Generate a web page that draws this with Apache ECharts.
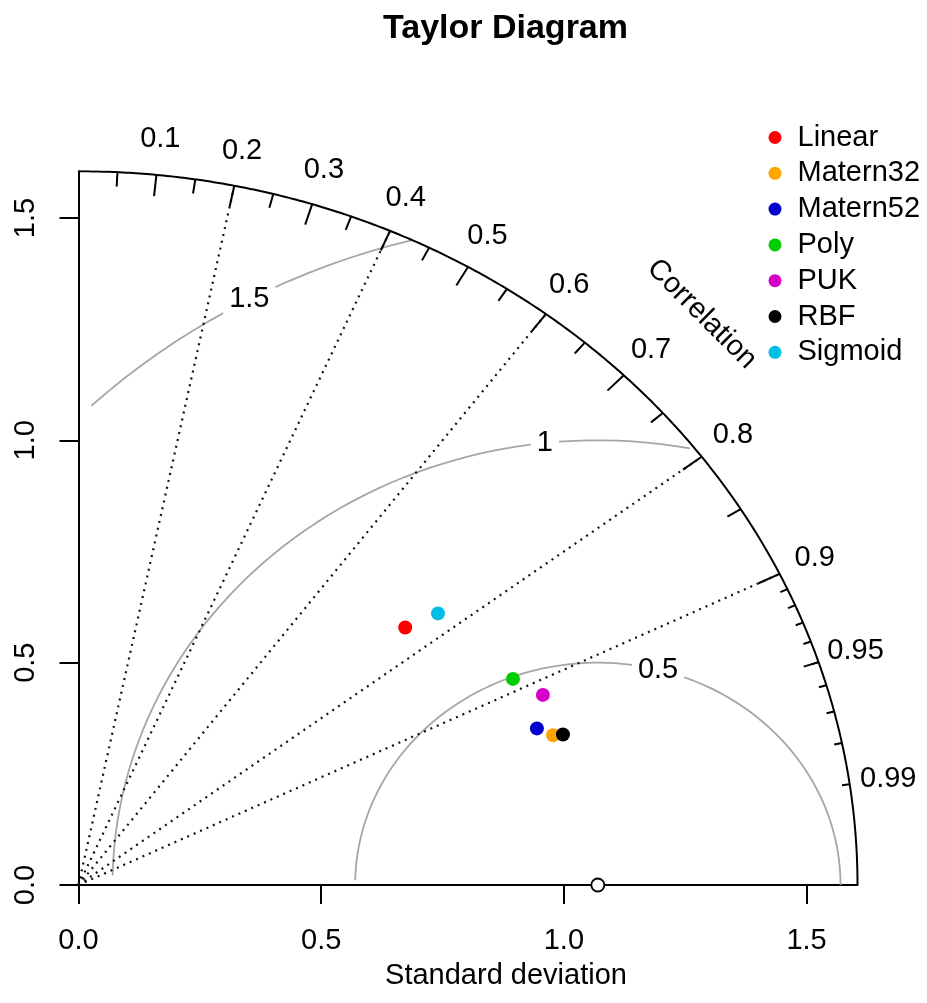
<!DOCTYPE html>
<html>
<head>
<meta charset="utf-8">
<script src="https://cdn.jsdelivr.net/npm/echarts@6/dist/echarts.min.js"></script>
<style>
html, body { margin: 0; padding: 0; background: #ffffff; }
#chart { width: 927px; height: 1003px; }
</style>
</head>
<body>
<div id="chart"></div>
<script>
// ---------------- data ----------------
const models = ['Linear', 'Matern32', 'Matern52', 'Poly', 'PUK', 'RBF', 'Sigmoid'];
const modelColors = ['#ff0000', '#ffa500', '#0000cd', '#00cd00', '#d600c8', '#000000', '#00bfe6'];
const modelSD = [0.888, 1.034, 1.008, 1.008, 1.048, 1.054, 0.960];
const modelCor = [0.758, 0.9455, 0.937, 0.888, 0.913, 0.947, 0.7715];
const refSD = 1.07;

const gammaLevels = [0.5, 1, 1.5];
const gammaLabels = ['0.5', '1', '1.5'];
const radialCors = [0.2, 0.4, 0.6, 0.8, 0.9];
const bigTickCors = [0.1, 0.2, 0.3, 0.4, 0.5, 0.6, 0.7, 0.8, 0.9];
const medTickCors = [0.05, 0.15, 0.25, 0.35, 0.45, 0.55, 0.65, 0.75, 0.85, 0.95];
const smallTickCors = [0.91, 0.92, 0.93, 0.94, 0.95, 0.96, 0.97, 0.98, 0.99];
const corLabelValues = [0.1, 0.2, 0.3, 0.4, 0.5, 0.6, 0.7, 0.8, 0.9, 0.95, 0.99];
const corLabelTexts = ['0.1', '0.2', '0.3', '0.4', '0.5', '0.6', '0.7', '0.8', '0.9', '0.95', '0.99'];
const sdTicks = [0, 0.5, 1, 1.5];
const sdTickLabels = ['0.0', '0.5', '1.0', '1.5'];

// ---------------- layout / style ----------------
const FONT = 'Liberation Sans, Arial, Helvetica, sans-serif';
const FS = 29;
const maxsd = 1.5 * refSD;                  // plotrix rule
const gammaLabelAngles = [1.32, 1.68, 2.07]; // where contour labels sit (radians around ref point)

function polar(r, c) { return [r * c, r * Math.sqrt(1 - c * c)]; }

// outer arc
const arcPts = [];
for (let i = 0; i <= 360; i++) {
  const t = (Math.PI / 2) * i / 360;
  arcPts.push([maxsd * Math.cos(t), maxsd * Math.sin(t)]);
}

// centred-RMS contours (plotrix algorithm)
function gammaCurve(g) {
  const xs = [], ys = [];
  for (let k = 0; k * 0.03 <= Math.PI; k++) {
    const t = k * 0.03;
    xs.push(Math.cos(t) * g + refSD);
    ys.push(Math.sin(t) * g);
  }
  let end = xs.findIndex(v => v < 0);
  end = end === -1 ? xs.length - 1 : end - 1;
  let start = 0;
  for (let i = 0; i < xs.length; i++) {
    if (xs[i] * xs[i] + ys[i] * ys[i] > maxsd * maxsd) start = i + 1;
  }
  const pts = [];
  for (let i = start; i <= end; i++) pts.push([xs[i], ys[i]]);
  return pts;
}

function tickSeries(cors, frac) {
  return {
    type: 'custom', silent: true, clip: false, z: 5,
    data: cors.map(c => [c]),
    renderItem: (params, api) => {
      const c = api.value(0);
      const a = api.coord(polar(maxsd, c));
      const b = api.coord(polar(maxsd * frac, c));
      return { type: 'line', shape: { x1: a[0], y1: a[1], x2: b[0], y2: b[1] },
               style: { stroke: '#000', lineWidth: 2 } };
    }
  };
}

const series = [];

// gamma contours
gammaLevels.forEach(g => {
  series.push({
    type: 'line', silent: true, showSymbol: false, symbol: 'none', z: 1,
    data: gammaCurve(g),
    lineStyle: { color: '#a6a6a6', width: 1.8 },
    animation: false
  });
});

// gamma labels
series.push({
  type: 'custom', silent: true, clip: false, z: 3,
  data: gammaLevels.map((g, i) => [g, i]),
  renderItem: (params, api) => {
    const g = api.value(0), i = api.value(1);
    const t = gammaLabelAngles[i];
    const p = api.coord([refSD + g * Math.cos(t), g * Math.sin(t)]);
    return { type: 'text', x: p[0], y: p[1],
      style: { text: gammaLabels[i], fontSize: FS, fontFamily: FONT, fill: '#000',
               align: 'center', verticalAlign: 'middle', backgroundColor: '#fff', padding: [0, 6] } };
  }
});

// radial correlation lines
series.push({
  type: 'custom', silent: true, clip: false, z: 2,
  data: radialCors.map(c => [c]),
  renderItem: (params, api) => {
    const c = api.value(0);
    const a = api.coord([0, 0]);
    const b = api.coord(polar(maxsd, c));
    return { type: 'line', shape: { x1: a[0], y1: a[1], x2: b[0], y2: b[1] },
             style: { stroke: '#111', lineWidth: 2.2, lineDash: [2, 5] } };
  }
});

// outer arc
series.push({
  type: 'line', silent: true, showSymbol: false, symbol: 'none', z: 4,
  data: arcPts, lineStyle: { color: '#000', width: 2 }, animation: false
});

series.push(tickSeries(bigTickCors, 0.97));
series.push(tickSeries(medTickCors, 0.98));
series.push(tickSeries(smallTickCors, 0.99));

// correlation labels
series.push({
  type: 'custom', silent: true, clip: false, z: 5,
  data: corLabelValues.map((c, i) => [c, i]),
  renderItem: (params, api) => {
    const c = api.value(0), i = api.value(1);
    const p = api.coord(polar(maxsd * 1.05, c));
    return { type: 'text', x: p[0], y: p[1],
      style: { text: corLabelTexts[i], fontSize: FS, fontFamily: FONT, fill: '#000',
               align: 'center', verticalAlign: 'middle' } };
  }
});

// "Correlation" title
series.push({
  type: 'custom', silent: true, clip: false, z: 5,
  data: [[maxsd * 0.8, maxsd * 0.8]],
  renderItem: (params, api) => {
    const p = api.coord([api.value(0), api.value(1)]);
    return { type: 'text', x: p[0], y: p[1], rotation: -Math.PI / 4,
      style: { text: 'Correlation', fontSize: FS, fontFamily: FONT, fill: '#000',
               align: 'center', verticalAlign: 'middle' } };
  }
});

// reference point
series.push({
  type: 'scatter', silent: true, z: 6,
  data: [[refSD, 0]], symbol: 'circle', symbolSize: 13,
  itemStyle: { color: '#fff', borderColor: '#000', borderWidth: 1.8, opacity: 1 }
});

// models
models.forEach((m, i) => {
  series.push({
    type: 'scatter', name: m, z: 7,
    data: [polar(modelSD[i], modelCor[i])],
    symbol: 'circle', symbolSize: 14,
    itemStyle: { color: modelColors[i], opacity: 1 }
  });
});

const chart = echarts.init(document.getElementById('chart'), null, { renderer: 'canvas' });
chart.setOption({
  animation: false,
  backgroundColor: '#fff',
  title: {
    text: 'Taylor Diagram', left: 383, top: 12, padding: 0,
    textStyle: { fontSize: 34, fontWeight: 'bold', fontFamily: FONT, color: '#000' }
  },
  legend: {
    data: models, orient: 'vertical', left: 763.5, top: 118,
    itemWidth: 13, itemHeight: 13, itemGap: 6.8, icon: 'circle', selectedMode: false,
    itemStyle: { opacity: 1 },
    textStyle: { fontSize: FS, fontFamily: FONT, color: '#000', padding: [0, 0, 0, 11] }
  },
  grid: { left: 78.5, top: 171.3, width: 779, height: 713.7, containLabel: false },
  xAxis: {
    type: 'value', min: 0, max: maxsd,
    name: 'Standard deviation', nameLocation: 'middle', nameGap: 76,
    nameTextStyle: { fontSize: FS, fontFamily: FONT, color: '#000', padding: [0, 0, 0, 76] },
    axisLine: { show: true, lineStyle: { color: '#000', width: 2 } },
    axisTick: { show: true, inside: false, length: 19, customValues: sdTicks, lineStyle: { color: '#000', width: 2 } },
    axisLabel: { customValues: sdTicks, margin: 41, fontSize: FS, fontFamily: FONT, color: '#000',
                 formatter: v => sdTickLabels[sdTicks.indexOf(v)] },
    splitLine: { show: false }
  },
  yAxis: {
    type: 'value', min: 0, max: maxsd,
    axisLine: { show: true, lineStyle: { color: '#000', width: 2 } },
    axisTick: { show: true, inside: false, length: 19, customValues: sdTicks, lineStyle: { color: '#000', width: 2 } },
    axisLabel: { customValues: sdTicks, margin: 38, rotate: 90, fontSize: FS, fontFamily: FONT, color: '#000',
                 formatter: v => sdTickLabels[sdTicks.indexOf(v)] },
    splitLine: { show: false }
  },
  series: series
});
</script>
</body>
</html>
